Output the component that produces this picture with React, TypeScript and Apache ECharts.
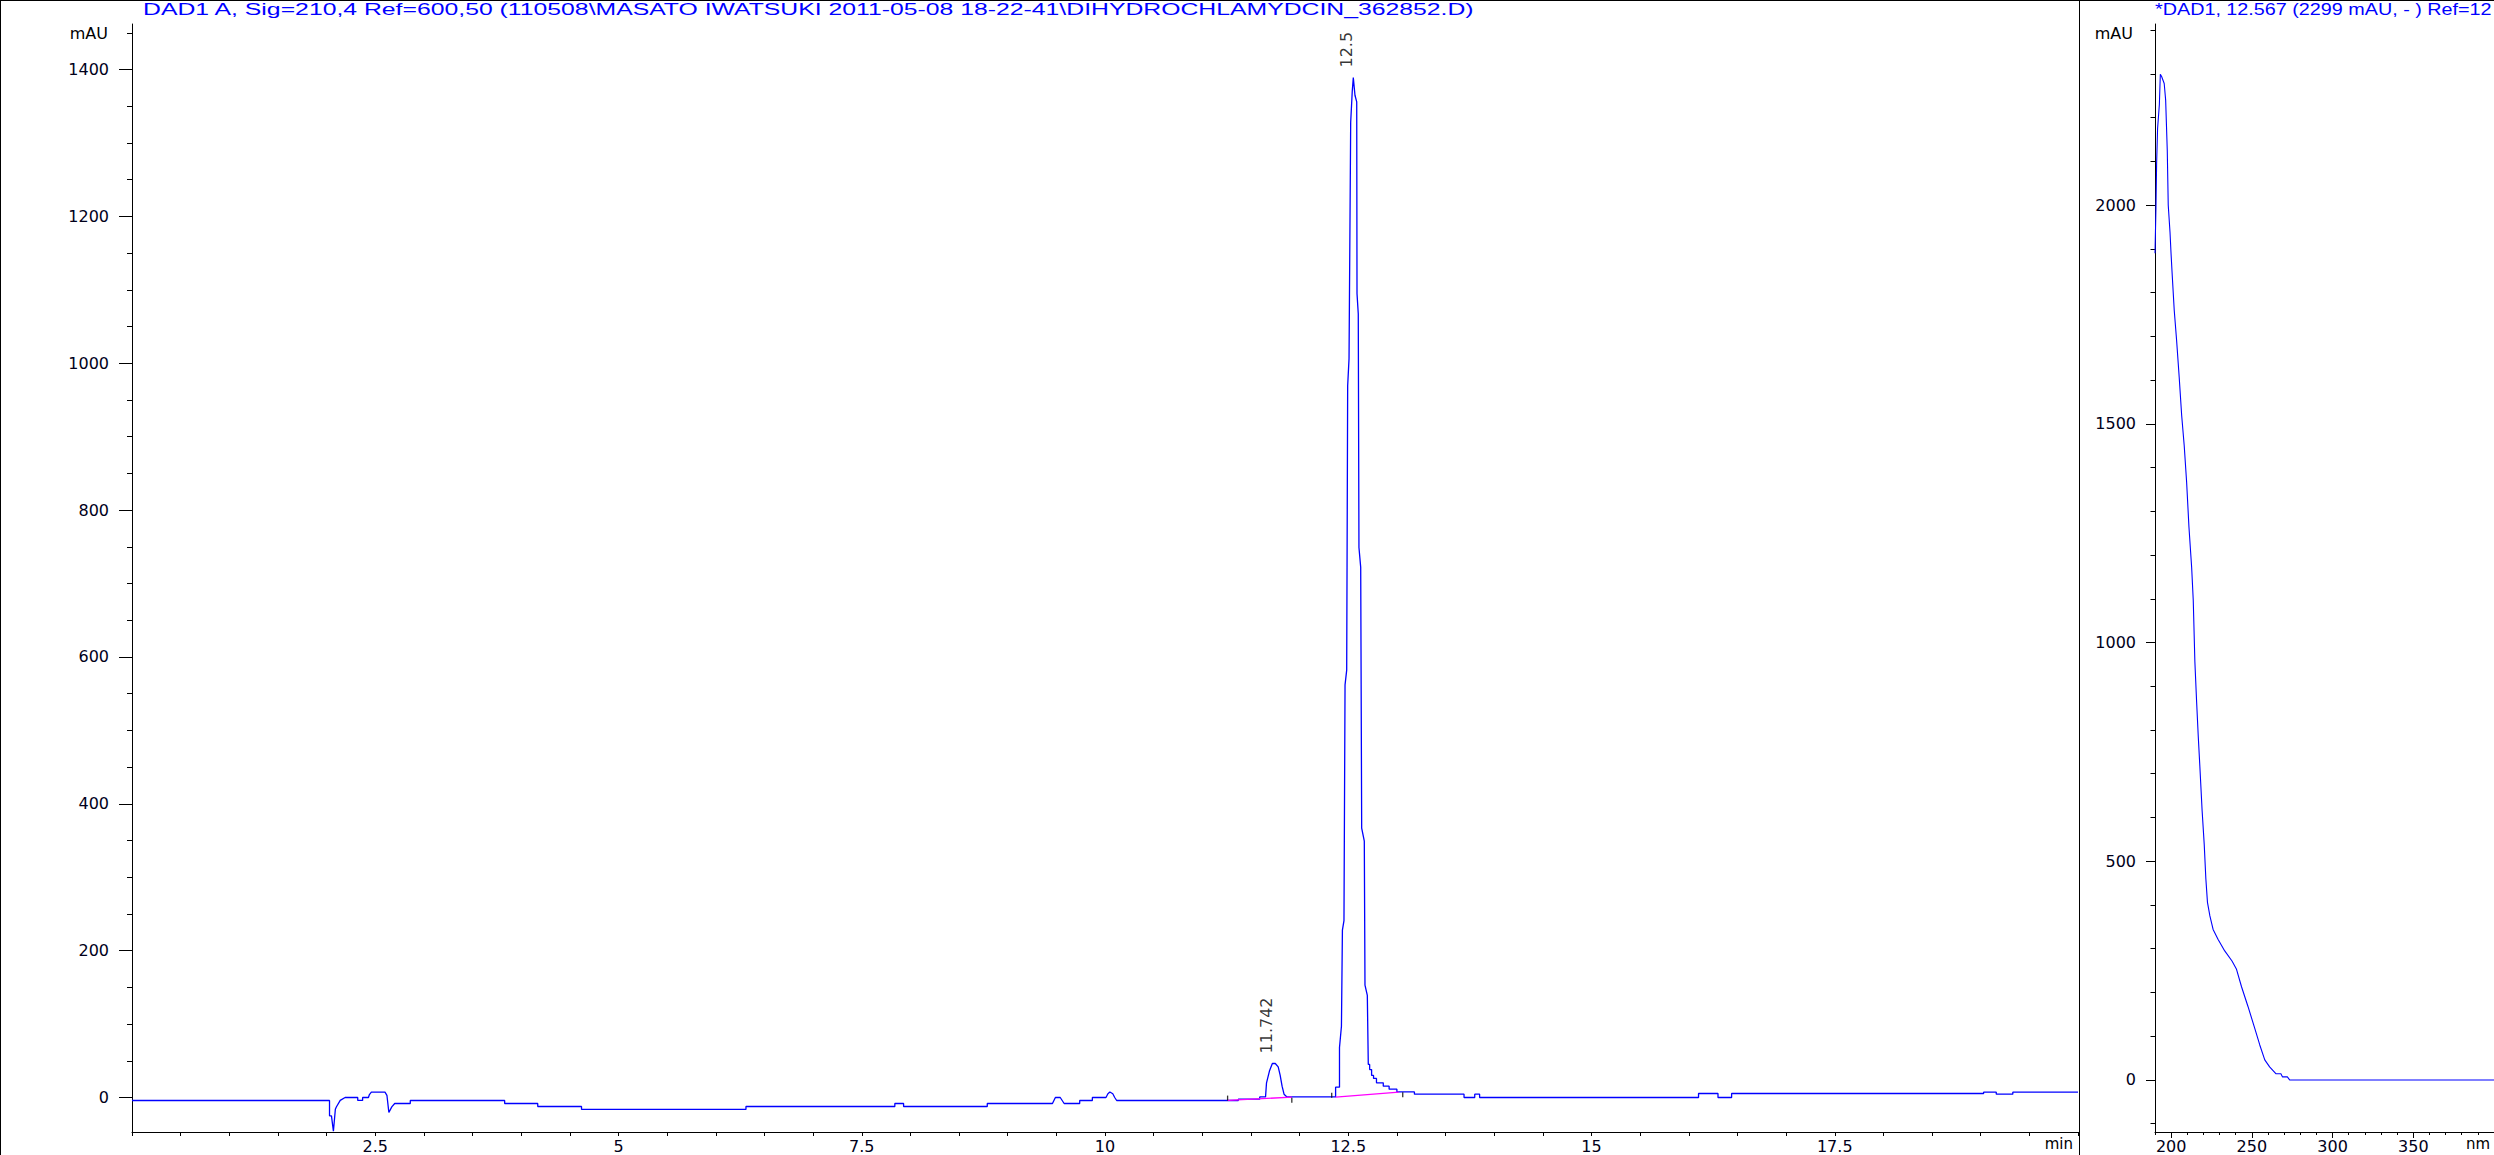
import React, { useEffect, useRef } from 'react';
import * as echarts from 'echarts';

const W = 2494;
const H = 1155;

// ---- Chromatogram (DAD1 A, 210 nm) ----
const chromTime = [
  0.0, 2.03, 2.03, 2.05, 2.07, 2.09, 2.1, 2.14, 2.19, 2.32, 2.32, 2.37, 2.37, 2.43, 2.44, 2.46, 2.6, 2.62, 2.64, 2.67,
  2.7, 2.86, 2.86, 3.83, 3.83, 4.17, 4.17, 4.62, 4.62, 6.31, 6.31, 7.84, 7.84, 7.93, 7.93, 8.79, 8.79, 9.46, 9.49, 9.54,
  9.58, 9.74, 9.74, 9.87, 9.87, 10.01, 10.03, 10.05, 10.08, 10.1, 10.12, 11.37, 11.37, 11.59, 11.59, 11.65, 11.66, 11.69,
  11.72, 11.75, 11.78, 11.8, 11.82, 11.84, 11.87, 12.37, 12.37, 12.41, 12.41, 12.43, 12.44, 12.456, 12.467, 12.484,
  12.494, 12.508, 12.525, 12.541, 12.552, 12.569, 12.587, 12.59, 12.603, 12.61, 12.628, 12.638, 12.665, 12.672, 12.696,
  12.706, 12.72, 12.72, 12.74, 12.74, 12.76, 12.76, 12.79, 12.79, 12.86, 12.86, 12.92, 12.92, 13.0, 13.0, 13.18, 13.18,
  13.69, 13.69, 13.8, 13.8, 13.85, 13.85, 16.1, 16.1, 16.3, 16.3, 16.44, 16.44, 19.03, 19.03, 19.16, 19.16, 19.33, 19.33,
  20.0,
];
const chromAbs = [
  -4.1, -4.1, -25, -25, -46, -16, -13, -4, 0, 0, -4, -4, 0, 0, 4, 7.2, 7.2, 3, -20.4, -12.8,
  -8.2, -8.2, -4.1, -4.1, -8.2, -8.2, -12.3, -12.3, -16.3, -16.3, -12.3, -12.3, -8.2, -8.2, -12.3, -12.3, -8.2, -8.2, 0, 0,
  -8.2, -8.2, -4.1, -4.1, 0, 0, 5, 7.5, 5, 0, -4.1, -4.1, -2.3, -2.3, 0.8, 0.8, 20, 36,
  46.3, 46.3, 41.7, 30.4, 15.4, 4.5, 0.8, 0.8, 14, 14, 68, 97, 228, 241, 562, 582,
  969, 1006, 1328, 1370, 1389, 1365, 1356, 1095, 1067, 749, 722, 367, 349, 153, 139,
  45, 45, 38, 38, 30, 30, 26, 26, 20, 20, 15.4, 15.4, 11.3, 11.3, 7.6, 7.6, 4.5,
  4.5, 0, 0, 4.5, 4.5, 0, 0, 5.4, 5.4, 0, 0, 5.4, 5.4, 7.3, 7.3, 4.5, 4.5, 7.3,
  7.3,
];

// integration baselines (magenta) and peak start / end marks
const baseline1 = [[11.26, -4], [11.92, 0.5]];
const baseline2 = [[12.37, 0.6], [13.02, 7.2]];
const peakMarks = [[11.26, -0.8], [11.92, -3.7], [12.33, 3.1], [13.06, 3.8]];

// peak retention-time labels
const peakRT = [11.742, 12.567];
const peakTop = [46.3, 1389];
const peakText = ['11.742', '12.5'];

// ---- UV spectrum at 12.567 min ----
const specNm = [
  190.0, 190.6, 191.0, 191.6, 192.7, 193.3, 194.1, 195.7, 196.6, 197.6, 198.2, 199.3, 199.9, 200.7, 201.9, 203.4,
  205.0, 206.5, 208.1, 209.6, 211.0, 212.7, 213.7, 214.7, 215.8, 216.8, 217.8, 219.2, 220.5, 221.5, 222.5, 224.0,
  226.0, 229.1, 233.2, 237.7, 240.5, 243.6, 247.6, 251.8, 254.9, 258.0, 261.0, 265.0, 268.0, 269.0, 272.0, 273.4, 400.0,
];
const specAbs = [
  1890, 1995, 2095, 2175, 2230, 2299, 2294, 2278, 2240, 2125, 2000, 1938, 1892, 1838, 1760, 1690,
  1606, 1520, 1450, 1366, 1266, 1172, 1096, 956, 863, 785, 716, 615, 538, 460, 406, 375,
  344, 321, 295, 272, 253, 213, 168, 118, 80, 46, 30, 14, 14, 7, 7, 0, 0,
];

// ---- tick values ----
const chromYLabels = [0, 200, 400, 600, 800, 1000, 1200, 1400];
const chromYMinor = [50, 100, 150, 250, 300, 350, 450, 500, 550, 650, 700, 750, 850, 900, 950, 1050, 1100, 1150, 1250, 1300, 1350, 1450];
const chromXLabels = [2.5, 5, 7.5, 10, 12.5, 15, 17.5];
const specYLabels = [0, 500, 1000, 1500, 2000];
const specYMinor = [-100, 100, 200, 300, 400, 600, 700, 800, 900, 1100, 1200, 1300, 1400, 1600, 1700, 1800, 1900, 2100, 2200, 2300, 2400];
const specXLabels = [200, 250, 300, 350];
const specXMinor = [190, 210, 220, 230, 240, 260, 270, 280, 290, 310, 320, 330, 340, 360, 370, 380, 390, 400];

const mainTitle = 'DAD1 A, Sig=210,4 Ref=600,50 (110508\\MASATO IWATSUKI 2011-05-08 18-22-41\\DIHYDROCHLAMYDCIN_362852.D)';
const specTitle = '*DAD1, 12.567 (2299 mAU, - ) Ref=12';

const BLUE = '#0000ff';
const INK = '#000000';
const LBL = { color: '#00001a', fontSize: 16, fontFamily: 'DejaVu Sans' };

function measure(text: string, font: string): number {
  const ctx = document.createElement('canvas').getContext('2d');
  if (!ctx) return text.length * 9;
  ctx.font = font;
  return ctx.measureText(text).width;
}

const plain = (v: number) => String(v);

export default function App() {
  const ref = useRef<HTMLDivElement>(null);

  useEffect(() => {
    if (!ref.current) return;
    const chart = echarts.init(ref.current, null, { renderer: 'svg', width: W, height: H });

    const titleFont = '16px "Liberation Sans"';
    const mainScale = 1333 / measure(mainTitle, titleFont);
    const specScale = 337 / measure(specTitle, titleFont);

    const chromData = chromTime.map((t, i) => [t, chromAbs[i]]);
    const specData = specNm.map((n, i) => [n, specAbs[i]]);
    const labelData = peakRT.map((t, i) => [t, peakTop[i]]);

    const axisLineStyle = { color: INK, width: 1 };

    const option: any = {
      animation: false,
      backgroundColor: '#ffffff',
      grid: [
        { left: 132, top: 24, width: 1946, height: 1108, containLabel: false },
        { left: 2155, top: 24, width: 340, height: 1108, containLabel: false },
      ],
      xAxis: [
        {
          gridIndex: 0, type: 'value', min: 0, max: 20, interval: 2.5, position: 'bottom',
          axisLine: { show: true, onZero: false, lineStyle: axisLineStyle },
          axisTick: { show: true, length: 4, lineStyle: axisLineStyle },
          minorTick: { show: true, splitNumber: 5, length: 4, lineStyle: axisLineStyle },
          axisLabel: {
            ...LBL, margin: 6,
            formatter: (v: number) => (chromXLabels.indexOf(v) >= 0 ? String(v) : ''),
          },
          splitLine: { show: false }, minorSplitLine: { show: false },
        },
        {
          gridIndex: 1, type: 'value', min: 190, max: 400, position: 'bottom',
          axisLine: { show: true, onZero: false, lineStyle: axisLineStyle },
          axisTick: { show: true, length: 6, customValues: specXLabels, lineStyle: axisLineStyle },
          axisLabel: { ...LBL, margin: 6, customValues: specXLabels, formatter: plain },
          splitLine: { show: false },
        },
        {
          gridIndex: 1, type: 'value', min: 190, max: 400, position: 'bottom',
          axisLine: { show: false, onZero: false },
          axisTick: { show: true, length: 3, customValues: specXMinor, lineStyle: axisLineStyle },
          axisLabel: { show: false },
          splitLine: { show: false },
        },
      ],
      yAxis: [
        {
          gridIndex: 0, type: 'value', min: -47, max: 1462, position: 'left',
          axisLine: { show: true, onZero: false, lineStyle: axisLineStyle },
          axisTick: { show: true, length: 13, customValues: chromYLabels, lineStyle: axisLineStyle },
          axisLabel: { ...LBL, margin: 23, customValues: chromYLabels, formatter: plain },
          splitLine: { show: false },
        },
        {
          gridIndex: 0, type: 'value', min: -47, max: 1462, position: 'left',
          axisLine: { show: false, onZero: false },
          axisTick: { show: true, length: 5, customValues: chromYMinor, lineStyle: axisLineStyle },
          axisLabel: { show: false },
          splitLine: { show: false },
        },
        {
          gridIndex: 1, type: 'value', min: -119, max: 2414, position: 'left',
          axisLine: { show: true, onZero: false, lineStyle: axisLineStyle },
          axisTick: { show: true, length: 9, customValues: specYLabels, lineStyle: axisLineStyle },
          axisLabel: { ...LBL, margin: 19, customValues: specYLabels, formatter: plain },
          splitLine: { show: false },
        },
        {
          gridIndex: 1, type: 'value', min: -119, max: 2414, position: 'left',
          axisLine: { show: false, onZero: false },
          axisTick: { show: true, length: 4.5, customValues: specYMinor, lineStyle: axisLineStyle },
          axisLabel: { show: false },
          splitLine: { show: false },
        },
      ],
      series: [
        {
          name: 'DAD1 A', type: 'line', xAxisIndex: 0, yAxisIndex: 0, data: chromData,
          showSymbol: false, symbol: 'none', lineStyle: { color: BLUE, width: 1.3 }, z: 3,
        },
        {
          name: 'baseline1', type: 'line', xAxisIndex: 0, yAxisIndex: 0, data: baseline1,
          showSymbol: false, symbol: 'none', lineStyle: { color: '#ff00ff', width: 1.3 }, z: 4,
        },
        {
          name: 'baseline2', type: 'line', xAxisIndex: 0, yAxisIndex: 0, data: baseline2,
          showSymbol: false, symbol: 'none', lineStyle: { color: '#ff00ff', width: 1.3 }, z: 4,
        },
        {
          name: 'marks', type: 'scatter', xAxisIndex: 0, yAxisIndex: 0, data: peakMarks,
          symbol: 'rect', symbolSize: [1.3, 5], itemStyle: { color: INK }, z: 5,
        },
        {
          name: 'rt', type: 'scatter', xAxisIndex: 0, yAxisIndex: 0, data: labelData,
          symbolSize: 0.1, itemStyle: { color: 'rgba(0,0,0,0)' }, z: 6,
          label: {
            show: true, position: 'top', distance: 10, rotate: 90, align: 'left', verticalAlign: 'bottom',
            formatter: (p: any) => peakText[p.dataIndex], color: INK, fontSize: 16, fontFamily: 'DejaVu Sans',
          },
        },
        {
          name: 'spectrum', type: 'line', xAxisIndex: 1, yAxisIndex: 2, data: specData,
          showSymbol: false, symbol: 'none', lineStyle: { color: BLUE, width: 1.1 }, z: 3,
        },
      ],
      graphic: [
        { type: 'line', shape: { x1: 0.5, y1: 0, x2: 0.5, y2: H }, style: { stroke: INK, lineWidth: 1 } },
        { type: 'line', shape: { x1: 0, y1: 0.5, x2: W, y2: 0.5 }, style: { stroke: INK, lineWidth: 1 } },
        { type: 'line', shape: { x1: 2079.5, y1: 0, x2: 2079.5, y2: H }, style: { stroke: INK, lineWidth: 1 } },
        {
          type: 'text', x: 143, y: 9.5, scaleX: mainScale,
          style: { text: mainTitle, font: titleFont, fill: BLUE, align: 'left', verticalAlign: 'middle', textAlign: 'left', textVerticalAlign: 'middle' },
        },
        {
          type: 'text', x: 2155, y: 9.5, scaleX: specScale,
          style: { text: specTitle, font: titleFont, fill: BLUE, align: 'left', verticalAlign: 'middle', textAlign: 'left', textVerticalAlign: 'middle' },
        },
        {
          type: 'text', x: 108, y: 33,
          style: { text: 'mAU', font: '16px "DejaVu Sans"', fill: INK, align: 'right', verticalAlign: 'middle', textAlign: 'right', textVerticalAlign: 'middle' },
        },
        {
          type: 'text', x: 2133, y: 33,
          style: { text: 'mAU', font: '16px "DejaVu Sans"', fill: INK, align: 'right', verticalAlign: 'middle', textAlign: 'right', textVerticalAlign: 'middle' },
        },
        {
          type: 'text', x: 2073, y: 1144,
          style: { text: 'min', font: '15px "DejaVu Sans"', fill: INK, align: 'right', verticalAlign: 'middle', textAlign: 'right', textVerticalAlign: 'middle' },
        },
        {
          type: 'text', x: 2490, y: 1144,
          style: { text: 'nm', font: '15px "DejaVu Sans"', fill: INK, align: 'right', verticalAlign: 'middle', textAlign: 'right', textVerticalAlign: 'middle' },
        },
      ],
    };

    chart.setOption(option);
    return () => chart.dispose();
  }, []);

  return (
    <div
      ref={ref}
      style={{ position: 'fixed', left: 0, top: 0, width: W, height: H, background: '#ffffff' }}
    />
  );
}
